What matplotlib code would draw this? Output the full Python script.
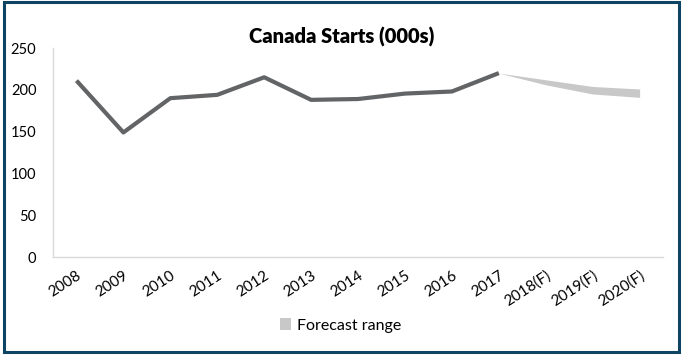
import matplotlib.pyplot as plt
from matplotlib.patches import Rectangle

# Canada housing starts, thousands of units
years = ['2008', '2009', '2010', '2011', '2012', '2013', '2014',
         '2015', '2016', '2017', '2018(F)', '2019(F)', '2020(F)']
starts = [211, 149, 190, 194, 215, 188, 189, 195.5, 198, 220]
forecast_low = [220, 206, 195, 191]
forecast_high = [220, 212, 204, 201]

plt.rcParams['font.family'] = ['Lato', 'DejaVu Sans']

fig = plt.figure(figsize=(6.85, 3.57), dpi=100)
ax = fig.add_axes([0.0774, 0.280, 0.8906, 0.5855])

x_hist = list(range(len(starts)))
x_fc = list(range(len(starts) - 1, len(years)))

ax.fill_between(x_fc, forecast_low, forecast_high, color='#c9c8c9',
                linewidth=0, label='Forecast range')
ax.plot(x_hist, starts, color='#636466', linewidth=3.0,
        solid_capstyle='butt')

ax.set_xlim(-0.5, len(years) - 0.5)
ax.set_ylim(0, 250)
ax.set_yticks([0, 50, 100, 150, 200, 250])
ax.set_xticks(range(len(years)))
ax.set_xticklabels(years, rotation=33, ha='right', rotation_mode='anchor')
ax.tick_params(length=0, labelsize=10.5, colors='black', pad=12)
ax.tick_params(axis='x', labelsize=11, pad=8)

for side in ['top', 'right']:
    ax.spines[side].set_visible(False)
for side in ['left', 'bottom']:
    ax.spines[side].set_color('#d9d9d9')
    ax.spines[side].set_linewidth(1.0)

fig.text(0.499, 0.896, 'Canada Starts (000s)', ha='center', va='center',
         fontsize=14.5, fontweight='heavy')

fig.legend(loc='center', bbox_to_anchor=(0.497, 0.088), frameon=False,
           fontsize=11.5, handlelength=0.7, handleheight=0.7,
           handletextpad=0.4)

# dark frame around the whole chart
fig.patches.append(Rectangle((4 / 685, 5 / 357), 675 / 685, 350 / 357,
                             transform=fig.transFigure, fill=False,
                             edgecolor='#0d4463', linewidth=2.2))

fig.savefig('out.png', dpi=100)
